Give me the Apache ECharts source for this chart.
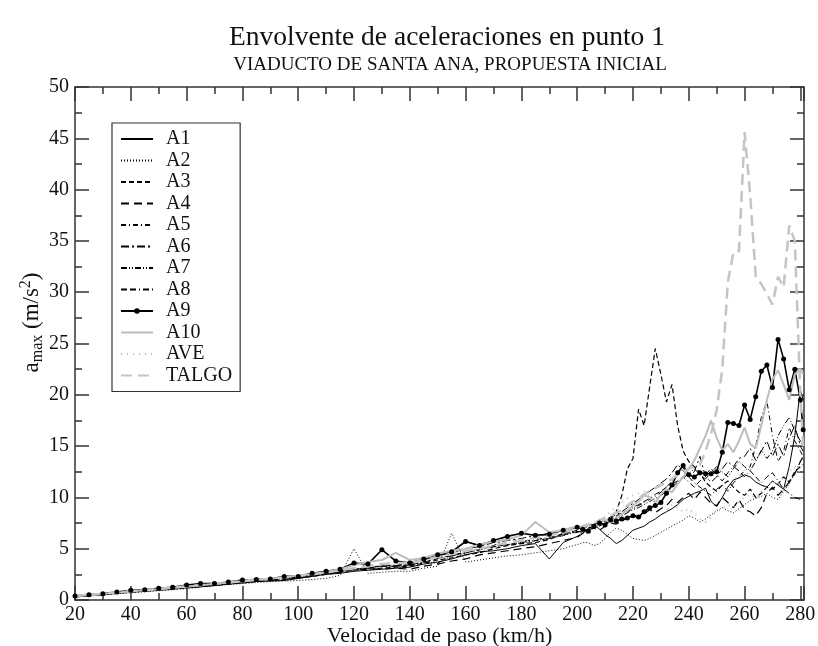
<!DOCTYPE html>
<html>
<head>
<meta charset="utf-8">
<script src="https://cdn.jsdelivr.net/npm/echarts@6/dist/echarts.min.js"></script>
<style>
  html, body { margin: 0; padding: 0; background: #fff; }
  #chart { width: 818px; height: 646px; }
</style>
</head>
<body>
<div id="chart"></div>
<script>
// velocidad de paso (km/h): paso 5 hasta 200, paso 2 en la zona alta
const speeds = [
  20, 25, 30, 35, 40, 45, 50, 55, 60, 65, 70, 75, 80, 85, 90, 95, 100, 105, 110, 115,
  120, 125, 130, 135, 140, 145, 150, 155, 160, 165, 170, 175, 180, 185, 190, 195, 200,
  202, 204, 206, 208, 210, 212, 214, 216, 218, 220, 222, 224, 226, 228, 230, 232, 234, 236, 238, 240,
  242, 244, 246, 248, 250, 252, 254, 256, 258, 260, 262, 264, 266, 268, 270, 272, 274, 276, 278, 280, 281
]

// a_max (m/s2) de cada tren
const a1 = [
  0.3, 0.4, 0.5, 0.65, 0.75, 0.85, 0.95, 1.05, 1.2, 1.3, 1.4, 1.55, 1.65, 1.8, 1.85, 1.9, 2.1, 2.3, 2.5, 2.6,
  2.8, 2.9, 3.0, 3.1, 3.2, 3.5, 3.7, 4.0, 4.4, 4.7, 4.8, 5.0, 5.3, 5.5, 4.0, 5.6, 6.2,
  6.5, 7.0, 7.4, 6.9, 6.4, 6.0, 5.5, 5.8, 6.3, 6.8, 7.0, 7.2, 7.6, 7.9, 8.3, 8.6, 8.9, 9.3, 9.8, 10.1,
  10.4, 10.6, 10.9, 9.6, 9.1, 10.0, 11.0, 11.7, 11.9, 12.2, 12.0, 11.5, 11.2, 11.0, 11.6, 11.2, 10.8, 13.0, 16.0, 20.5, 19.5
]
const a2 = [
  0.3, 0.4, 0.5, 0.6, 0.7, 0.8, 0.9, 1.0, 1.1, 1.25, 1.4, 1.5, 1.6, 1.7, 1.8, 1.85, 1.9, 2.0, 2.1, 2.4,
  5.0, 2.6, 2.7, 2.8, 2.8, 3.1, 3.3, 6.5, 3.7, 3.9, 4.1, 4.3, 4.4, 4.6, 4.8, 5.0, 5.4,
  5.6, 5.6, 5.3, 5.5, 6.0, 6.6, 7.0, 6.8, 6.4, 6.0, 5.9, 5.8, 6.0, 6.3, 6.6, 6.9, 7.2, 7.5, 7.8, 8.2,
  8.0, 7.6, 7.9, 8.3, 8.7, 9.0, 8.7, 8.5, 8.9, 9.3, 9.7, 9.9, 10.1, 10.4, 10.0, 9.8, 10.6, 11.3, 12.4, 13.5, 13.8
]
const a3 = [
  0.35, 0.45, 0.55, 0.65, 0.8, 0.9, 1.0, 1.1, 1.2, 1.3, 1.45, 1.55, 1.7, 1.8, 1.9, 2.0, 2.15, 2.3, 2.5, 2.7,
  2.9, 3.0, 3.1, 3.2, 3.3, 3.6, 3.9, 4.1, 4.4, 4.6, 5.0, 5.3, 5.5, 5.6, 5.9, 6.5, 6.6,
  6.7, 7.0, 7.2, 7.5, 7.4, 7.9, 8.6, 10.2, 12.8, 13.8, 18.6, 17.0, 20.8, 24.5, 22.0, 19.3, 21.0, 17.0, 14.5, 13.5,
  13.0, 12.4, 11.5, 11.0, 10.6, 11.2, 11.6, 11.0, 10.5, 10.2, 10.8, 10.0, 10.4, 11.0, 10.8, 11.3, 12.0, 11.5, 12.5, 13.0, 13.2
]
const a4 = [
  0.3, 0.42, 0.52, 0.68, 0.78, 0.88, 0.98, 1.1, 1.22, 1.32, 1.45, 1.58, 1.7, 1.85, 1.92, 2.05, 2.15, 2.35, 2.55, 2.75,
  2.95, 3.05, 3.0, 3.1, 3.0, 3.3, 3.5, 3.8, 4.0, 4.4, 4.6, 4.8, 5.0, 5.2, 5.5, 5.8, 6.1,
  6.5, 6.8, 7.0, 6.8, 7.2, 7.5, 7.4, 7.7, 8.0, 8.3, 8.0, 8.4, 8.8, 8.5, 8.9, 9.2, 9.8, 9.5, 10.0, 10.4,
  9.8, 10.5, 10.0, 9.4, 9.2, 10.0, 9.5, 9.0, 9.8, 8.8, 8.6, 8.2, 9.0, 10.4, 11.0, 10.2, 10.8, 11.5, 12.3, 13.5, 14.0
]
const a5 = [
  0.38, 0.48, 0.58, 0.72, 0.82, 0.92, 1.02, 1.18, 1.28, 1.38, 1.52, 1.62, 1.78, 1.88, 2.0, 2.12, 2.25, 2.45, 2.65, 2.82,
  3.05, 3.15, 3.35, 3.4, 3.45, 3.75, 4.05, 4.35, 4.7, 5.0, 5.3, 6.0, 5.7, 5.9, 6.1, 6.4, 6.8,
  6.6, 6.9, 7.1, 7.4, 7.6, 7.8, 8.1, 8.4, 8.6, 8.9, 9.2, 9.5, 9.8, 10.1, 10.5, 11.0, 11.6, 12.2, 12.9, 12.0,
  11.4, 11.0, 10.6, 10.2, 10.8, 11.2, 10.6, 11.4, 12.0, 12.6, 13.0, 15.0, 17.8, 19.4, 16.0, 13.5, 14.5, 16.8, 15.5, 14.5, 14.0
]
const a6 = [
  0.36, 0.46, 0.56, 0.7, 0.8, 0.92, 1.0, 1.15, 1.27, 1.36, 1.5, 1.62, 1.75, 1.9, 1.98, 2.12, 2.22, 2.4, 2.62, 2.8,
  3.0, 3.12, 3.3, 3.35, 3.6, 3.9, 4.3, 4.6, 5.0, 5.2, 5.6, 5.8, 6.0, 6.3, 6.5, 6.8, 7.2,
  6.9, 7.2, 7.5, 7.3, 7.8, 8.1, 8.3, 8.6, 9.0, 9.4, 9.8, 10.2, 10.6, 11.0, 11.4, 11.8, 12.4, 13.2, 12.6, 12.0,
  12.5, 14.0, 12.0, 11.5, 12.0, 12.8, 13.5, 13.0, 13.8, 14.0, 14.8, 13.6, 14.5, 15.5, 14.0, 15.2, 14.0, 15.8, 17.0, 15.0, 14.5
]
const a7 = [
  0.34, 0.44, 0.54, 0.68, 0.79, 0.89, 0.99, 1.12, 1.24, 1.34, 1.48, 1.58, 1.73, 1.87, 1.94, 2.08, 2.18, 2.38, 2.58, 2.78,
  2.98, 3.08, 3.28, 3.3, 3.38, 3.68, 3.6, 4.28, 4.58, 4.88, 5.18, 5.38, 5.58, 5.78, 5.98, 6.28, 6.68,
  6.5, 6.8, 7.0, 7.2, 7.5, 7.7, 8.0, 8.2, 8.5, 8.8, 9.0, 9.3, 9.6, 9.9, 10.2, 10.6, 11.0, 11.5, 11.9, 12.3,
  12.8, 12.2, 11.8, 12.4, 13.0, 12.5, 12.0, 12.8, 13.5, 13.0, 12.6, 13.5, 14.6, 13.8, 14.5, 16.0, 17.0, 17.8, 16.5, 15.5, 15.0
]
const a8 = [
  0.33, 0.43, 0.53, 0.69, 0.81, 0.9, 1.01, 1.14, 1.26, 1.37, 1.51, 1.6, 1.76, 1.91, 1.97, 2.1, 2.2, 2.42, 2.6, 2.8,
  3.02, 3.1, 3.32, 3.28, 3.42, 3.7, 4.02, 4.32, 4.6, 4.9, 5.2, 5.4, 5.6, 5.8, 6.02, 6.32, 6.7,
  6.6, 6.9, 7.2, 7.4, 7.7, 7.9, 8.2, 8.5, 8.7, 9.0, 9.3, 9.6, 9.9, 10.3, 10.6, 11.0, 11.3, 11.6, 12.0, 11.5,
  11.0, 11.6, 12.2, 12.8, 12.2, 11.6, 12.4, 13.0, 12.6, 12.0, 12.6, 12.0, 11.4, 12.0, 12.4, 11.6, 10.8, 10.4, 10.0, 9.8, 9.7
]
const a9 = [
  0.4, 0.5, 0.62, 0.78, 0.95, 1.0, 1.15, 1.25, 1.45, 1.6, 1.6, 1.75, 1.95, 2.0, 2.05, 2.3, 2.3, 2.6, 2.8, 3.0,
  3.6, 3.5, 4.9, 3.8, 3.6, 4.0, 4.4, 4.7, 5.7, 5.3, 5.8, 6.2, 6.5, 6.3, 6.4, 6.8, 7.1,
  6.9, 6.7, 7.2, 7.5, 7.3, 7.8, 7.7, 7.9, 8.0, 8.2, 8.1, 8.6, 9.0, 9.2, 9.5, 10.4, 11.2, 12.4, 13.1, 12.2,
  12.0, 12.4, 12.3, 12.3, 12.5, 14.4, 17.3, 17.2, 17.0, 19.0, 17.6, 19.8, 22.3, 22.9, 20.7, 25.4, 23.5, 20.5, 22.5, 19.5, 16.6
]
const a10 = [
  0.4, 0.5, 0.6, 0.7, 0.85, 0.95, 1.05, 1.2, 1.3, 1.45, 1.55, 1.7, 1.8, 1.95, 2.1, 2.2, 2.4, 2.5, 2.7, 3.0,
  3.4, 3.7, 3.9, 4.6, 3.9, 4.1, 4.5, 4.8, 5.0, 5.4, 5.7, 5.9, 6.3, 7.6, 6.6, 6.8, 7.2,
  7.0, 7.3, 7.1, 7.5, 7.8, 7.6, 8.0, 8.4, 8.7, 9.2, 9.6, 10.2, 10.0, 9.5, 10.3, 10.8, 10.5, 11.3, 12.0, 12.8,
  13.6, 14.8, 16.0, 17.5, 15.8, 14.6, 15.2, 14.4, 15.5, 16.8, 15.2, 14.8, 17.0, 19.5, 21.5, 22.4, 21.0, 19.5, 22.0, 22.5, 22.0
]
const ave = [
  0.4, 0.5, 0.62, 0.75, 0.85, 0.95, 1.08, 1.2, 1.3, 1.42, 1.55, 1.65, 1.8, 1.95, 2.02, 2.15, 2.28, 2.45, 2.65, 2.85,
  3.05, 3.2, 3.4, 3.5, 3.55, 3.8, 4.1, 4.4, 4.7, 5.0, 5.3, 5.5, 5.7, 5.9, 6.1, 6.4, 6.6,
  6.4, 6.7, 7.1, 7.6, 8.1, 8.6, 9.0, 9.5, 9.9, 10.2, 10.4, 10.6, 10.1, 9.6, 9.2, 8.8, 9.3, 9.0, 8.6, 8.9,
  8.4, 7.9, 7.6, 8.1, 8.6, 8.9, 9.3, 9.0, 9.6, 10.0, 10.3, 9.9, 10.5, 11.0, 11.6, 11.2, 12.0, 12.5, 13.0, 12.4, 12.0
]
const talgo = [
  0.4, 0.5, 0.6, 0.75, 0.85, 0.95, 1.1, 1.2, 1.35, 1.45, 1.6, 1.7, 1.85, 2.0, 2.05, 2.2, 2.35, 2.5, 2.7, 2.9,
  3.1, 3.3, 3.5, 3.6, 3.6, 3.9, 4.2, 4.5, 4.8, 5.0, 5.3, 5.6, 5.8, 6.1, 6.3, 6.6, 7.0,
  7.2, 7.4, 7.5, 7.8, 8.0, 8.2, 8.5, 8.8, 9.2, 9.6, 9.9, 10.3, 10.6, 10.9, 11.2, 11.5, 11.8, 12.2, 12.5, 12.8,
  13.0, 13.2, 14.5, 16.2, 18.5, 22.5, 31.0, 33.9, 34.0, 45.6, 39.5, 31.5, 30.8, 29.8, 28.8, 31.5, 30.5, 36.5, 35.0, 20.0, 15.0
]

const FONT = '"Liberation Serif", "DejaVu Serif", serif'
const AXIS_COLOR = '#333'

// estilo de cada curva (orden de la leyenda)
const trains = [
  { name: 'A1', data: a1, color: '#000', width: 1, type: 'solid' },
  { name: 'A2', data: a2, color: '#000', width: 1, type: [1, 2] },
  { name: 'A3', data: a3, color: '#000', width: 1.2, type: [5, 3] },
  { name: 'A4', data: a4, color: '#000', width: 1.2, type: [8, 5] },
  { name: 'A5', data: a5, color: '#000', width: 1, type: [5, 3, 1, 3] },
  { name: 'A6', data: a6, color: '#000', width: 1, type: [8, 3, 2, 3] },
  { name: 'A7', data: a7, color: '#000', width: 1, type: [6, 2, 1, 2, 1, 2] },
  { name: 'A8', data: a8, color: '#000', width: 1, type: [6, 3, 6, 3, 1, 3] },
  { name: 'A9', data: a9, color: '#000', width: 1.6, type: 'solid', symbol: true },
  { name: 'A10', data: a10, color: '#bdbdbd', width: 2, type: 'solid' },
  { name: 'AVE', data: ave, color: '#bdbdbd', width: 2, type: [1, 5] },
  { name: 'TALGO', data: talgo, color: '#c4c4c4', width: 2.5, type: [11, 6] },
]

const chart = echarts.init(document.getElementById('chart'))

function valueAxis(extra) {
  return Object.assign({
    type: 'value',
    splitLine: { show: false },
    axisLine: { onZero: false, lineStyle: { color: AXIS_COLOR, width: 1.5 } },
    axisTick: { inside: true, length: 14, lineStyle: { color: AXIS_COLOR, width: 1.5 } },
    minorTick: { show: true, splitNumber: 2, length: 7, lineStyle: { color: AXIS_COLOR, width: 1.5 } },
    axisLabel: { fontFamily: FONT, fontSize: 20, color: '#111' },
  }, extra)
}

const xRange = { min: 20, max: 281.3, interval: 20 }
const yRange = { min: 0, max: 50, interval: 5 }

const option = {
  animation: false,
  backgroundColor: '#fff',
  title: [
    {
      text: 'Envolvente de aceleraciones en punto 1',
      left: 442,
      top: 19,
      textAlign: 'center',
      textStyle: { fontFamily: FONT, fontSize: 27.5, fontWeight: 'normal', color: '#111' },
    },
    {
      text: 'VIADUCTO DE SANTA ANA, PROPUESTA INICIAL',
      left: 445,
      top: 51,
      textAlign: 'center',
      textStyle: { fontFamily: FONT, fontSize: 19, fontWeight: 'normal', color: '#111' },
    },
  ],
  legend: {
    orient: 'vertical',
    left: 112,
    top: 123,
    data: trains.map((t) => t.name),
    itemWidth: 32,
    itemHeight: 7,
    itemGap: 1.5,
    padding: [6, 8, 6, 8],
    borderColor: AXIS_COLOR,
    borderWidth: 1.2,
    selectedMode: false,
    textStyle: { fontFamily: FONT, fontSize: 20, color: '#111', lineHeight: 20, padding: [0, 0, 0, 8] },
  },
  grid: { left: 75, right: 14, top: 87, bottom: 46, outerBoundsMode: 'none' },
  xAxis: [
    valueAxis(Object.assign({
      position: 'bottom',
      name: 'Velocidad de paso (km/h)',
      nameLocation: 'middle',
      nameGap: 25,
      nameMoveOverlap: false,
      nameTextStyle: { fontFamily: FONT, fontSize: 22, color: '#111' },
      axisLabel: {
        fontFamily: FONT, fontSize: 20, color: '#111', margin: 5, showMaxLabel: false,
        formatter: (v) => (v % 20 === 0 ? String(v) : ''),
      },
    }, xRange)),
    valueAxis(Object.assign({ position: 'top', axisLabel: { show: false } }, xRange)),
  ],
  yAxis: [
    valueAxis(Object.assign({
      position: 'left',
      name: '{n|a}{s|max}{n| (m/s}{p|2}{n|)}',
      nameLocation: 'middle',
      nameRotate: 90,
      nameGap: 29,
      nameMoveOverlap: false,
      nameTextStyle: {
        fontFamily: FONT,
        color: '#111',
        padding: [0, 0, 0, 42],
        rich: {
          n: { fontFamily: FONT, fontSize: 23, color: '#111' },
          s: { fontFamily: FONT, fontSize: 16, color: '#111', padding: [12, 0, 0, 0] },
          p: { fontFamily: FONT, fontSize: 16, color: '#111', padding: [0, 0, 12, 0] },
        },
      },
      axisLabel: { fontFamily: FONT, fontSize: 20, color: '#111', margin: 6 },
    }, yRange)),
    valueAxis(Object.assign({ position: 'right', axisLabel: { show: false } }, yRange)),
  ],
  series: trains.map((t) => ({
    name: t.name,
    type: 'line',
    xAxisIndex: 0,
    yAxisIndex: 0,
    data: speeds.map((v, i) => [v, t.data[i]]),
    symbol: 'circle',
    symbolSize: 5,
    showSymbol: !!t.symbol,
    clip: true,
    // sin marcador: relleno transparente para que la leyenda muestre solo la linea
    itemStyle: { color: t.symbol ? t.color : 'rgba(0,0,0,0)' },
    lineStyle: { color: t.color, width: t.width, type: t.type },
    emphasis: { disabled: true },
  })),
}

chart.setOption(option)
</script>
</body>
</html>
